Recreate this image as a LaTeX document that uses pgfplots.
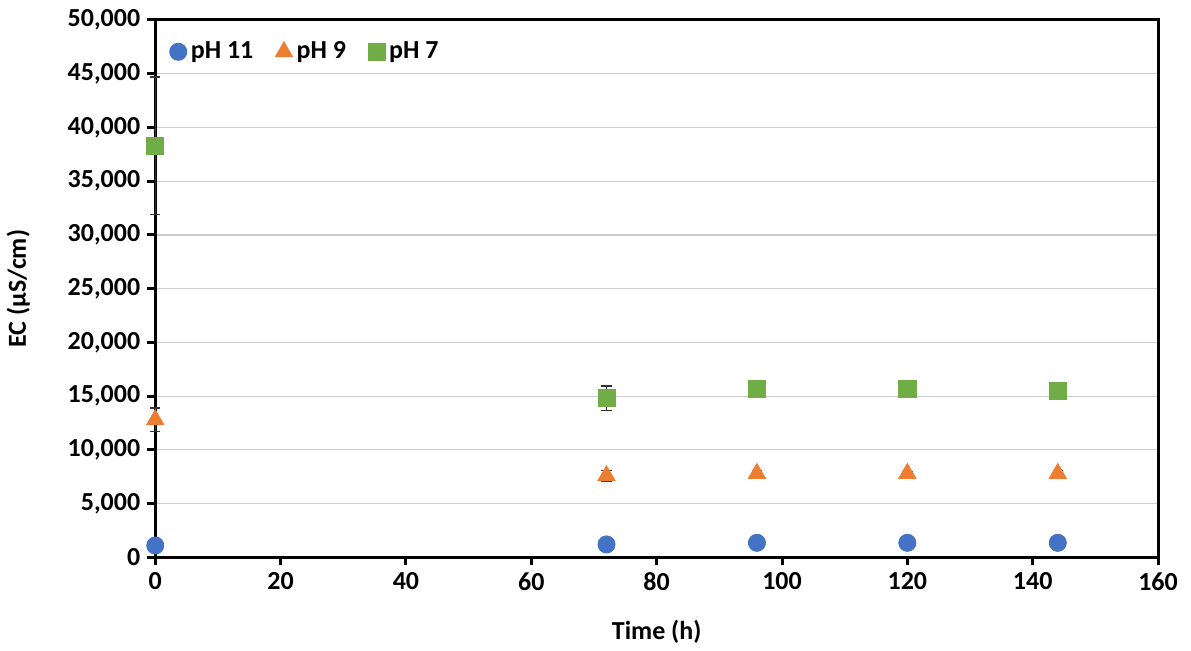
\documentclass[border=0pt]{standalone}
\usepackage{pgfplots}
\pgfplotsset{compat=1.18}
\usepackage{fontspec}
\setmainfont{Carlito}

\definecolor{xlblue}{HTML}{4472C4}
\definecolor{xlorange}{HTML}{ED7D31}
\definecolor{xlgreen}{HTML}{70AD47}

% time (h), EC, error
\pgfplotstableread{
x y err
0 1100 0
72 1200 0
96 1350 0
120 1350 0
144 1350 0
}\phA
\pgfplotstableread{
x y err
0 12800 1100
72 7600 500
96 7800 300
120 7800 200
144 7800 300
}\phB
\pgfplotstableread{
x y err
0 38300 6400
72 14800 1150
96 15650 0
120 15700 0
144 15450 0
}\phC

\begin{document}
\begin{tikzpicture}
 \begin{axis}[
 at={(0,0)}, anchor=south west,
 scale only axis,
 width=502pt, height=269pt,
 xmin=0, xmax=160,
 ymin=0, ymax=50000,
 xtick={0,20,...,160},
 ytick={0,5000,...,50000},
 xlabel={Time (h)},
 ylabel={EC (µS/cm)},
 font=\bfseries\fontsize{13}{15}\selectfont,
 ticklabel style={font=\bfseries\fontsize{13}{15}\selectfont},
 xlabel style={yshift=-8pt},
 ylabel style={yshift=12pt},
 /pgf/number format/assume math mode=true,
 /pgf/number format/1000 sep={,},
 scaled y ticks=false,
 axis line style={black, line width=1.5pt},
 tick style={black, line width=1.5pt},
 tick align=outside,
 major tick length=4pt,
 xtick pos=bottom, ytick pos=left,
 ymajorgrids=true,
 grid style={gray!40, line width=0.6pt},
 clip=false,
 legend style={draw=none, fill=none, legend columns=-1,
   at={(0.008,0.975)}, anchor=north west,
   font=\bfseries\fontsize{13}{15}\selectfont,
   /tikz/every even column/.append style={column sep=9pt}},
 error bars/error bar style={black!80, line width=0.6pt},
 error bars/error mark options={rotate=90, mark size=2.6pt, black!80, line width=0.6pt},
 ]
 \addplot[only marks, mark=*, mark size=4.3pt, color=xlblue, mark options={draw=none, fill=xlblue}]
   table[x=x, y=y] {\phA};
 \addlegendentry{pH 11}
 \addplot[only marks, mark=triangle*, mark size=5pt, color=xlorange, mark options={draw=none, fill=xlorange},
   error bars/.cd, y dir=both, y explicit]
   table[x=x, y=y, y error=err] {\phB};
 \addlegendentry{pH 9}
 \addplot[only marks, mark=square*, mark size=4.3pt, color=xlgreen, mark options={draw=none, fill=xlgreen},
   error bars/.cd, y dir=both, y explicit]
   table[x=x, y=y, y error=err] {\phC};
 \addlegendentry{pH 7}
 \end{axis}
 \path[use as bounding box] (-77pt,-45.5pt) rectangle (518.5pt,279pt);
\end{tikzpicture}
\end{document}
